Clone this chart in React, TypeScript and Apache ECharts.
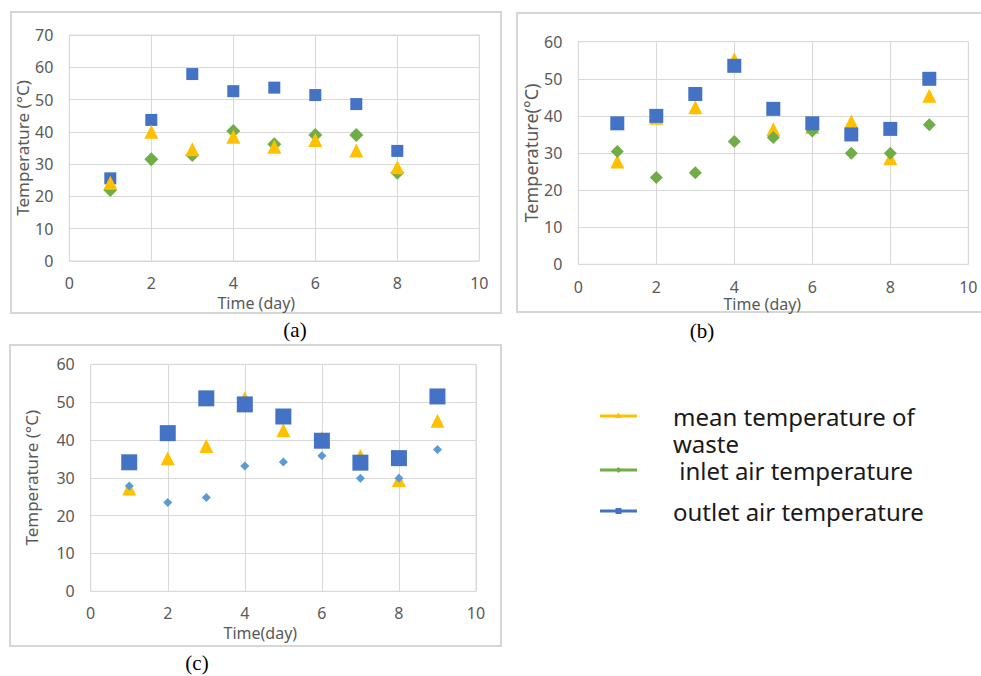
import React, { useEffect, useRef } from "react";
import * as echarts from "echarts";

const daysA = [1, 2, 3, 4, 5, 6, 7, 8];
const daysBC = [1, 2, 3, 4, 5, 6, 7, 8, 9];

const aOutlet = [25.6, 43.7, 57.9, 52.6, 53.7, 51.4, 48.6, 34.1];
const aInlet = [22.0, 31.5, 32.8, 40.3, 36.2, 39.0, 39.0, 27.3];
const aWaste = [24.2, 40.0, 34.6, 38.5, 35.4, 37.5, 34.2, 29.0];

const bOutlet = [38.0, 40.0, 45.9, 53.5, 41.9, 38.0, 35.0, 36.5, 50.0];
const bInlet = [30.4, 23.4, 24.7, 33.1, 34.2, 35.9, 29.9, 29.9, 37.6];
const bWaste = [27.7, 39.5, 42.3, 55.3, 36.4, 37.0, 38.5, 28.6, 45.4];

const cOutlet = [34.1, 41.8, 51.0, 49.4, 46.2, 39.8, 34.0, 35.2, 51.5];
const cInlet = [27.8, 23.5, 24.8, 33.1, 34.2, 35.8, 29.9, 29.9, 37.5];
const cWaste = [27.2, 35.2, 38.4, 51.0, 42.6, 40.5, 35.8, 29.4, 45.1];

const legendNames = ["mean temperature of\nwaste", " inlet air temperature", "outlet air temperature"];
const captions = ["(a)", "(b)", "(c)"];

const YELLOW = "#FFC000";
const GREEN = "#70AD47";
const BLUE = "#4472C4";
const LIGHTBLUE = "#5B9BD5";
const GRIDC = "#d9d9d9";
const LABELC = "#595959";
const FONT = "'Noto Sans', 'Open Sans', sans-serif";

const pairs = (xs: number[], ys: number[]) => xs.map((x, i) => [x, ys[i]]);

function xAxisCfg(gridIndex: number, name: string, gap: number, padRight: number, labelMargin: number) {
  return {
    type: "value",
    gridIndex,
    min: 0,
    max: 10,
    interval: 2,
    name,
    nameLocation: "middle",
    nameGap: gap,
    nameTextStyle: { color: LABELC, fontSize: 16, lineHeight: 15, fontFamily: FONT, padding: [0, padRight, 0, 0] },
    axisLine: { show: false },
    axisTick: { show: false },
    axisLabel: { color: LABELC, fontSize: 16, lineHeight: 15, fontFamily: FONT, margin: labelMargin },
    splitLine: { show: true, lineStyle: { color: GRIDC, width: 1 } },
  };
}

function yAxisCfg(gridIndex: number, max: number, name: string, gap: number, nameSize: number) {
  return {
    type: "value",
    gridIndex,
    min: 0,
    max,
    interval: 10,
    name,
    nameLocation: "middle",
    nameGap: gap,
    nameTextStyle: { color: LABELC, fontSize: nameSize, fontFamily: FONT },
    axisLine: { show: false },
    axisTick: { show: false },
    axisLabel: { color: LABELC, fontSize: 16, fontFamily: FONT, margin: 16 },
    splitLine: { show: true, lineStyle: { color: GRIDC, width: 1 } },
  };
}

function sc(name: string, idx: number, data: number[][], symbol: string, size: number, color: string, z: number) {
  return {
    name,
    type: "scatter",
    xAxisIndex: idx,
    yAxisIndex: idx,
    data,
    symbol,
    symbolSize: size,
    itemStyle: { color, opacity: 1 },
    z,
  };
}

export default function App() {
  const ref = useRef<HTMLDivElement>(null);
  useEffect(() => {
    if (!ref.current) return;
    const chart = echarts.init(ref.current, null, { renderer: "svg" });
    const panelBorder = { fill: "none", stroke: "#d6d6d6", lineWidth: 2 };
    const capFont = "21px 'Liberation Serif', 'DejaVu Serif', serif";
    const legendY = [416, 470, 511];
    const legendLineStep = 27;
    const legendColors = [YELLOW, GREEN, BLUE];
    const legendSymbols = ["triangle", "diamond", "rect"];
    const graphic: any[] = [
      { type: "rect", shape: { x: 11, y: 12, width: 490, height: 301 }, style: panelBorder, silent: true },
      { type: "rect", shape: { x: 517, y: 13, width: 470, height: 299 }, style: panelBorder, silent: true },
      { type: "rect", shape: { x: 10, y: 345, width: 491, height: 301 }, style: panelBorder, silent: true },
      { type: "text", x: 295, y: 330, style: { text: captions[0], font: capFont, fill: "#000", align: "center", verticalAlign: "middle" } },
      { type: "text", x: 702, y: 331, style: { text: captions[1], font: capFont, fill: "#000", align: "center", verticalAlign: "middle" } },
      { type: "text", x: 197, y: 663, style: { text: captions[2], font: capFont, fill: "#000", align: "center", verticalAlign: "middle" } },
    ];
    legendNames.forEach((n, i) => {
      const y = legendY[i];
      graphic.push({ type: "line", shape: { x1: 600, y1: y, x2: 637, y2: y }, style: { stroke: legendColors[i], lineWidth: 3 } });
      if (legendSymbols[i] === "rect") {
        graphic.push({ type: "rect", shape: { x: 615.5, y: y - 3, width: 6, height: 6 }, style: { fill: legendColors[i] } });
      } else if (legendSymbols[i] === "diamond") {
        graphic.push({ type: "polygon", shape: { points: [[618.5, y - 3], [621.5, y], [618.5, y + 3], [615.5, y]] }, style: { fill: legendColors[i] } });
      } else {
        graphic.push({ type: "polygon", shape: { points: [[618.5, y - 3.5], [622, y + 2], [615, y + 2]] }, style: { fill: legendColors[i] } });
      }
      n.split("\n").forEach((line, k) => {
        graphic.push({
          type: "text",
          x: 673,
          y: y + k * legendLineStep,
          style: {
            text: line,
            font: "24px 'Noto Sans', 'Open Sans', sans-serif",
            fill: "#1a1a1a",
            verticalAlign: "middle",
            lineHeight: 22,
          },
        });
      });
    });

    chart.setOption({
      animation: false,
      backgroundColor: "#ffffff",
      grid: [
        { left: 69.3, top: 35, width: 410, height: 226, show: true, borderColor: GRIDC, borderWidth: 1, backgroundColor: "transparent" },
        { left: 578.3, top: 41.7, width: 390, height: 222.6, show: true, borderColor: GRIDC, borderWidth: 1, backgroundColor: "transparent" },
        { left: 90.7, top: 364.3, width: 385.3, height: 227, show: true, borderColor: GRIDC, borderWidth: 1, backgroundColor: "transparent" },
      ],
      xAxis: [
        xAxisCfg(0, "Time (day)", 34, 36, 14),
        xAxisCfg(1, "Time (day)", 28, 22, 15),
        xAxisCfg(2, "Time(day)", 34, 46, 14),
      ],
      yAxis: [
        yAxisCfg(0, 70, "Temperature (°C)", 36, 17),
        yAxisCfg(1, 60, "Temperature(°C)", 38, 18),
        yAxisCfg(2, 60, "Temperature (°C)", 51, 17),
      ],
      series: [
        sc("outlet air temperature", 0, pairs(daysA, aOutlet), "rect", 12, BLUE, 2),
        sc("inlet air temperature", 0, pairs(daysA, aInlet), "diamond", 14, GREEN, 3),
        sc("mean temperature of waste", 0, pairs(daysA, aWaste), "triangle", 14, YELLOW, 4),
        sc("mean temperature of waste", 1, pairs(daysBC, bWaste), "triangle", 14, YELLOW, 2),
        sc("inlet air temperature", 1, pairs(daysBC, bInlet), "diamond", 13, GREEN, 3),
        sc("outlet air temperature", 1, pairs(daysBC, bOutlet), "rect", 14, BLUE, 4),
        sc("mean temperature of waste", 2, pairs(daysBC, cWaste), "triangle", 14, YELLOW, 2),
        sc("inlet air temperature", 2, pairs(daysBC, cInlet), "diamond", 9, LIGHTBLUE, 3),
        sc("outlet air temperature", 2, pairs(daysBC, cOutlet), "rect", 16, BLUE, 4),
      ],
      graphic,
    });
    return () => chart.dispose();
  }, []);
  return (
    <div
      ref={ref}
      style={{ position: "absolute", left: 0, top: 0, width: 981, height: 676, background: "#fff" }}
    />
  );
}
